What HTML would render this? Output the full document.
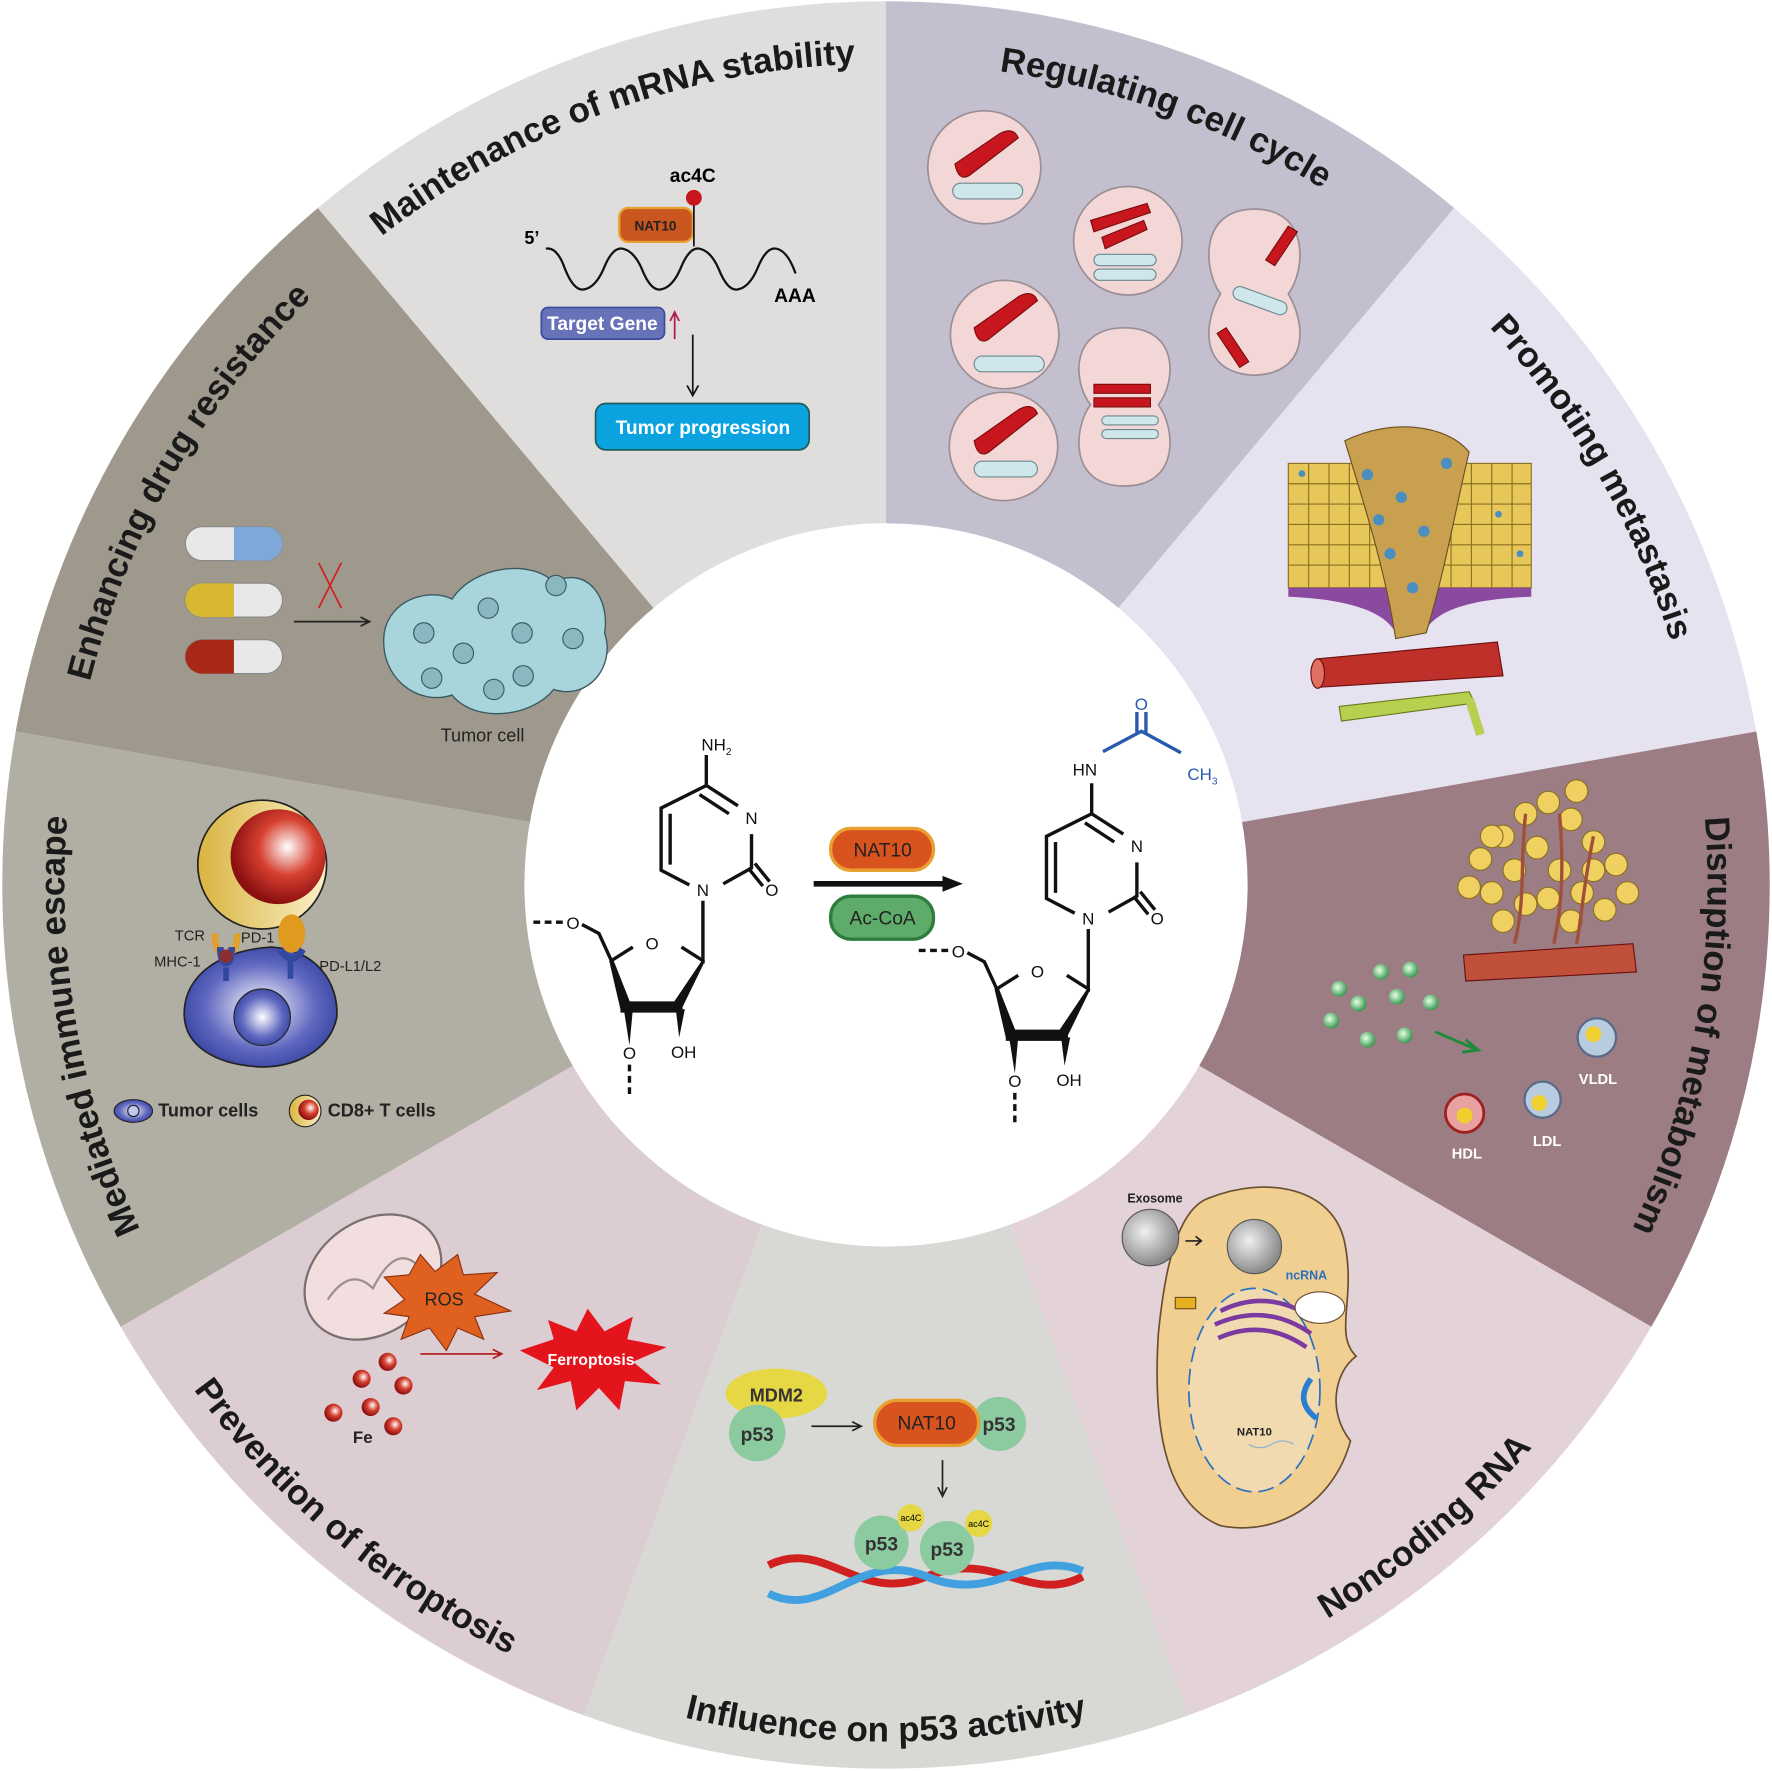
<!DOCTYPE html>
<html><head><meta charset="utf-8"><style>
html,body{margin:0;padding:0;background:#fff}
svg{display:block}
text{font-family:"Liberation Sans",Arial,sans-serif}
</style></head><body>
<svg width="1772" height="1771" viewBox="0 0 1568 1567" xmlns="http://www.w3.org/2000/svg">
<defs>
<radialGradient id="rs" cx="0.6" cy="0.4" r="0.6"><stop offset="0" stop-color="#fff"/><stop offset="0.5" stop-color="#d64030"/><stop offset="1" stop-color="#8a0f0f"/></radialGradient>
<radialGradient id="bs" cx="0.5" cy="0.5" r="0.6"><stop offset="0" stop-color="#fff"/><stop offset="0.6" stop-color="#6068c0"/><stop offset="1" stop-color="#2c3a98"/></radialGradient>
<radialGradient id="gs" cx="0.4" cy="0.4" r="0.6"><stop offset="0" stop-color="#e6ffe6"/><stop offset="1" stop-color="#3b9a52"/></radialGradient>
<radialGradient id="grs" cx="0.4" cy="0.4" r="0.6"><stop offset="0" stop-color="#f0f0f0"/><stop offset="1" stop-color="#8a8a8a"/></radialGradient>
<linearGradient id="yl" x1="0" x2="1"><stop offset="0" stop-color="#d9b440"/><stop offset="1" stop-color="#fbf0c8"/></linearGradient>
<path id="cw" d="M784,1510 A727,727 0 1 1 784,56 A727,727 0 1 1 784,1510"/>
<path id="ccw" d="M784,25 A758,758 0 1 0 784,1541 A758,758 0 1 0 784,25"/>
</defs>
<rect width="1568" height="1567" fill="#fff"/>
<!-- sectors -->
<path d="M784,783 L784,1 A782,782 0 0 1 1286.7,184 Z" fill="#c4bfcf"/>
<path d="M784,783 L1286.7,184 A782,782 0 0 1 1554.1,647.2 Z" fill="#e6e2f0"/>
<path d="M784,783 L1554.1,647.2 A782,782 0 0 1 1461.2,1174 Z" fill="#9c7d84"/>
<path d="M784,783 L1461.2,1174 A782,782 0 0 1 1051.4,1517.8 Z" fill="#e3d3d9"/>
<path d="M784,783 L1051.4,1517.8 A782,782 0 0 1 516.6,1517.8 Z" fill="#d8d9d4"/>
<path d="M784,783 L516.6,1517.8 A782,782 0 0 1 106.8,1174 Z" fill="#dccdd3"/>
<path d="M784,783 L106.8,1174 A782,782 0 0 1 13.9,647.2 Z" fill="#b1afa3"/>
<path d="M784,783 L13.9,647.2 A782,782 0 0 1 281.3,184 Z" fill="#9f998d"/>
<path d="M784,783 L281.3,184 A782,782 0 0 1 784,1 Z" fill="#dfdedc"/>
<circle cx="784" cy="783" r="320" fill="#fff"/>

<!-- titles -->
<g font-size="31" font-weight="bold" fill="#1a1a1a">
<text><textPath href="#cw" startOffset="22.22%" text-anchor="middle">Mediated immune escape</textPath></text>
<text><textPath href="#cw" startOffset="33.33%" text-anchor="middle">Enhancing drug  resistance</textPath></text>
<text><textPath href="#cw" startOffset="44.44%" text-anchor="middle">Maintenance of  mRNA stability</textPath></text>
<text><textPath href="#cw" startOffset="55.56%" text-anchor="middle">Regulating cell cycle</textPath></text>
<text><textPath href="#cw" startOffset="66.67%" text-anchor="middle">Promoting metastasis</textPath></text>
<text><textPath href="#cw" startOffset="77.78%" text-anchor="middle">Disruption of metabolism</textPath></text>
<text><textPath href="#ccw" startOffset="38.89%" text-anchor="middle">Prevention of ferroptosis</textPath></text>
<text><textPath href="#ccw" startOffset="50%" text-anchor="middle">Influence on p53 activity</textPath></text>
<text><textPath href="#ccw" startOffset="61.11%" text-anchor="middle">Noncoding RNA</textPath></text>
</g>

<!-- mRNA sector -->
<g>
<text x="464" y="216" font-size="16" font-weight="bold">5’</text>
<path d="M483,220 q10,-2 17,18 q8,20 17,18 q10,-2 17,-18 q8,-20 17,-18 q10,2 17,18 q8,20 17,18 q10,-2 17,-18 q8,-20 17,-18 q10,2 17,18 q8,20 17,18 q10,-2 17,-18 q8,-20 17,-18 q10,2 17,22" fill="none" stroke="#111" stroke-width="2"/>
<text x="685" y="267" font-size="17" font-weight="bold">AAA</text>
<rect x="548" y="184" width="65" height="30" rx="8" fill="#c9561f" stroke="#e8a030" stroke-width="2"/>
<text x="580" y="204" font-size="12" font-weight="bold" text-anchor="middle" fill="#222">NAT10</text>
<line x1="614" y1="176" x2="614" y2="218" stroke="#111" stroke-width="1.5"/>
<circle cx="614" cy="175" r="7" fill="#c8161e"/>
<text x="613" y="161" font-size="17" font-weight="bold" text-anchor="middle">ac4C</text>
<rect x="479" y="272" width="109" height="28" rx="6" fill="#6872b8" stroke="#3b4aa0" stroke-width="1.5"/>
<text x="533" y="292" font-size="17" font-weight="bold" text-anchor="middle" fill="#fff">Target Gene</text>
<path d="M597,300 V278 M593,284 L597,276 L601,284" fill="none" stroke="#b0184a" stroke-width="1.5"/>
<path d="M613,296 V348 M608,341 L613,350 L618,341" fill="none" stroke="#111" stroke-width="1.5"/>
<rect x="527" y="357" width="189" height="41" rx="9" fill="#0aa3e0" stroke="#1d5e58" stroke-width="1.5"/>
<text x="622" y="384" font-size="17" font-weight="bold" text-anchor="middle" fill="#fff">Tumor progression</text>
</g>

<!-- cell cycle -->
<g stroke="#9a8f95" stroke-width="1.5" fill="#f3d6d6">
<circle cx="871" cy="148" r="50"/><circle cx="998" cy="213" r="48"/><circle cx="889" cy="296" r="48"/><circle cx="888" cy="395" r="48"/>
<path d="M1110,185 C1160,185 1155,240 1140,260 C1155,285 1160,330 1110,332 C1060,330 1065,285 1080,260 C1065,240 1060,185 1110,185Z"/>
<path d="M995,290 C1045,290 1040,340 1025,358 C1040,378 1045,430 995,430 C945,430 950,378 965,358 C950,340 945,290 995,290Z"/>
</g>
<g fill="#c8161e" stroke="#7a0d0d" stroke-width="1">
<path d="M845,145 L885,118 q12,-6 16,4 L858,155 q-10,6 -13,-10Z"/>
<path d="M862,290 L902,262 q12,-6 16,4 L875,300 q-10,6 -13,-10Z"/>
<path d="M862,390 L902,362 q12,-6 16,4 L875,400 q-10,6 -13,-10Z"/>
<path d="M965,195 L1015,180 l3,8 L968,205Z M975,210 L1012,195 l3,8 L978,220Z"/>
<path d="M1120,230 l20,-30 l8,5 l-20,30Z M1085,290 l20,30 l-8,5 l-20,-30Z"/>
<path d="M968,340 h50 v8 h-50Z M968,352 h50 v8 h-50Z"/>
</g>
<g fill="#cfe6ea" stroke="#6a8a90" stroke-width="1">
<rect x="843" y="162" width="62" height="14" rx="7"/><rect x="862" y="315" width="62" height="14" rx="7"/><rect x="862" y="408" width="56" height="14" rx="7"/>
<rect x="968" y="225" width="55" height="10" rx="5"/><rect x="968" y="238" width="55" height="10" rx="5"/>
<rect x="1090" y="260" width="50" height="12" rx="6" transform="rotate(20 1115 266)"/>
<rect x="975" y="368" width="50" height="8" rx="4"/><rect x="975" y="380" width="50" height="8" rx="4"/>
</g>

<!-- metastasis -->
<g>
<rect x="1140" y="410" width="215" height="110" fill="#e8c75a" stroke="#8a7020"/>
<g stroke="#8a7020" stroke-width="1">
<path d="M1140,428 H1355 M1140,446 H1355 M1140,464 H1355 M1140,482 H1355 M1140,500 H1355 M1158,410 V520 M1176,410 V520 M1194,410 V520 M1212,410 V520 M1230,410 V520 M1248,410 V520 M1266,410 V520 M1284,410 V520 M1302,410 V520 M1320,410 V520 M1338,410 V520"/>
</g>
<path d="M1140,520 H1355 V528 C1300,530 1270,540 1260,560 L1235,560 C1225,540 1190,530 1140,528Z" fill="#8a4aa0"/>
<path d="M1190,390 C1230,370 1280,375 1300,400 C1290,440 1280,500 1262,560 L1235,565 C1225,500 1205,440 1190,390Z" fill="#c8a050" stroke="#6a5020"/>
<g fill="#4a8fc0"><circle cx="1210" cy="420" r="5"/><circle cx="1240" cy="440" r="5"/><circle cx="1260" cy="470" r="5"/><circle cx="1230" cy="490" r="5"/><circle cx="1250" cy="520" r="5"/><circle cx="1280" cy="410" r="5"/><circle cx="1220" cy="460" r="5"/><circle cx="1152" cy="419" r="3"/><circle cx="1326" cy="455" r="3"/><circle cx="1345" cy="490" r="3"/></g>
<path d="M1165,583 L1325,568 L1330,598 L1168,608Z" fill="#c0302a" stroke="#6a1010"/>
<ellipse cx="1166" cy="596" rx="6" ry="13" fill="#e07060" stroke="#6a1010"/>
<path d="M1185,625 L1300,612 L1305,622 L1187,638Z" fill="#b8d050" stroke="#6a7a20"/>
<path d="M1300,618 L1310,650" stroke="#b8d050" stroke-width="8"/>
</g>

<!-- metabolism -->
<g>
<g fill="#f0d060" stroke="#8a7020" stroke-width="1">
<circle cx="1310" cy="760" r="10"/><circle cx="1330" cy="740" r="10"/><circle cx="1350" cy="720" r="10"/><circle cx="1370" cy="710" r="10"/><circle cx="1390" cy="725" r="10"/><circle cx="1410" cy="745" r="10"/><circle cx="1430" cy="765" r="10"/><circle cx="1440" cy="790" r="10"/><circle cx="1420" cy="805" r="10"/><circle cx="1400" cy="790" r="10"/><circle cx="1380" cy="770" r="10"/><circle cx="1360" cy="750" r="10"/><circle cx="1340" cy="770" r="10"/><circle cx="1320" cy="790" r="10"/><circle cx="1300" cy="785" r="10"/><circle cx="1350" cy="800" r="10"/><circle cx="1370" cy="795" r="10"/><circle cx="1390" cy="815" r="10"/><circle cx="1330" cy="815" r="10"/><circle cx="1410" cy="770" r="10"/><circle cx="1320" cy="740" r="10"/><circle cx="1395" cy="700" r="10"/>
</g>
<path d="M1350,720 C1345,760 1350,800 1340,835 M1380,720 C1385,780 1380,810 1375,835 M1410,740 C1400,790 1400,810 1395,835" stroke="#a0503a" stroke-width="3" fill="none"/>
<path d="M1295,845 L1445,835 L1448,860 L1297,868Z" fill="#c0503a" stroke="#6a1010"/>
<g fill="url(#gs)"><circle cx="1222" cy="860" r="7"/><circle cx="1248" cy="858" r="7"/><circle cx="1185" cy="875" r="7"/><circle cx="1202" cy="888" r="7"/><circle cx="1236" cy="882" r="7"/><circle cx="1266" cy="887" r="7"/><circle cx="1178" cy="903" r="7"/><circle cx="1210" cy="920" r="7"/><circle cx="1243" cy="916" r="7"/></g>
<path d="M1270,913 L1305,928 M1297,920 L1308,929 L1294,931" stroke="#1f8a3a" stroke-width="2.5" fill="none"/>
<circle cx="1413" cy="918" r="17" fill="#b8cce0" stroke="#5a6a8a" stroke-width="2"/><circle cx="1410" cy="915" r="7" fill="#f0d030"/>
<circle cx="1365" cy="973" r="16" fill="#b8cce0" stroke="#5a6a8a" stroke-width="2"/><circle cx="1362" cy="976" r="7" fill="#f0d030"/>
<circle cx="1296" cy="985" r="17" fill="#e8a0a0" stroke="#a02020" stroke-width="2.5"/><circle cx="1296" cy="987" r="7" fill="#f0d030"/>
<g font-size="13" font-weight="bold" fill="#fff" text-anchor="middle"><text x="1414" y="959">VLDL</text><text x="1369" y="1014">LDL</text><text x="1298" y="1025">HDL</text></g>
</g>

<!-- noncoding -->
<g>
<path d="M1070,1060 C1120,1040 1180,1050 1190,1100 C1200,1150 1180,1180 1200,1200 C1180,1215 1175,1250 1195,1275 C1180,1330 1130,1360 1080,1350 C1030,1330 1020,1260 1025,1180 C1030,1130 1040,1070 1070,1060Z" fill="#f0cf90" stroke="#6a5030" stroke-width="1.5"/>
<circle cx="1110" cy="1103" r="24" fill="url(#grs)" stroke="#555"/>
<ellipse cx="1110" cy="1230" rx="58" ry="90" fill="#f2dab0" stroke="#2a70c0" stroke-width="1.5" stroke-dasharray="14 6"/>
<path d="M1080,1160 q40,-20 80,5 M1075,1172 q45,-20 85,8 M1078,1184 q40,-18 78,8" stroke="#7a3aa0" stroke-width="4" fill="none"/>
<ellipse cx="1168" cy="1157" rx="22" ry="14" fill="#fff" stroke="#6a5030"/>
<path d="M1160,1220 q-15,20 5,35" stroke="#2a80d0" stroke-width="5" fill="none"/>
<rect x="1040" y="1148" width="18" height="10" fill="#e8b020" stroke="#6a5020"/>
<circle cx="1018" cy="1095" r="25" fill="url(#grs)" stroke="#555"/>
<path d="M1049,1098 H1062 M1058,1094 L1063,1098 L1058,1102" stroke="#222" stroke-width="1.5" fill="none"/>
<text x="1022" y="1064" font-size="11" font-weight="bold" text-anchor="middle" fill="#222">Exosome</text>
<text x="1156" y="1132" font-size="11" font-weight="bold" text-anchor="middle" fill="#2a70c0">ncRNA</text>
<text x="1110" y="1270" font-size="10" font-weight="bold" text-anchor="middle" fill="#222">NAT10</text>
<path d="M1105,1278 q10,6 20,0 q10,-6 20,0" stroke="#8ab0d0" fill="none"/>
</g>

<!-- p53 -->
<g>
<ellipse cx="687" cy="1233" rx="45" ry="22" fill="#e5d844"/>
<text x="687" y="1240" font-size="16" font-weight="bold" text-anchor="middle" fill="#333">MDM2</text>
<circle cx="670" cy="1268" r="25" fill="#8ccaa0"/>
<text x="670" y="1275" font-size="17" font-weight="bold" text-anchor="middle" fill="#333">p53</text>
<path d="M718,1262 H760 M754,1258 L762,1262 L754,1266" stroke="#222" stroke-width="1.5" fill="none"/>
<circle cx="884" cy="1260" r="24" fill="#8ccaa0"/>
<text x="884" y="1266" font-size="17" font-weight="bold" text-anchor="middle" fill="#333">p53</text>
<rect x="774" y="1239" width="92" height="40" rx="20" fill="#d9531e" stroke="#e8a030" stroke-width="3"/>
<text x="820" y="1265" font-size="17" text-anchor="middle" fill="#222">NAT10</text>
<path d="M834,1292 V1322 M830,1316 L834,1324 L838,1316" stroke="#222" stroke-width="1.5" fill="none"/>
<path d="M680,1385 C730,1360 760,1420 820,1395 C880,1370 910,1420 958,1395" stroke="#d02020" stroke-width="7" fill="none"/>
<path d="M680,1410 C730,1435 760,1370 820,1395 C880,1420 910,1370 958,1390" stroke="#40a0e0" stroke-width="7" fill="none"/>
<circle cx="780" cy="1365" r="24" fill="#8ccaa0"/>
<circle cx="838" cy="1370" r="24" fill="#8ccaa0"/>
<text x="780" y="1372" font-size="17" font-weight="bold" text-anchor="middle" fill="#333">p53</text>
<text x="838" y="1377" font-size="17" font-weight="bold" text-anchor="middle" fill="#333">p53</text>
<circle cx="806" cy="1343" r="12" fill="#e5d844"/><circle cx="866" cy="1348" r="12" fill="#e5d844"/>
<text x="806" y="1346" font-size="8" text-anchor="middle">ac4C</text><text x="866" y="1351" font-size="8" text-anchor="middle">ac4C</text>
</g>

<!-- ferroptosis -->
<g>
<ellipse cx="330" cy="1130" rx="65" ry="50" transform="rotate(-35 330 1130)" fill="#f2dede" stroke="#7a7070" stroke-width="2"/>
<path d="M290,1150 q20,-30 40,-10 q20,-40 40,-20" stroke="#9a9090" fill="none" stroke-width="2"/>
<path d="M340,1130 L362,1128 L372,1110 L385,1125 L405,1110 L410,1128 L440,1126 L420,1145 L452,1160 L420,1165 L428,1185 L405,1175 L395,1195 L380,1175 L355,1185 L362,1165 L340,1162 L358,1150Z" fill="#e06020" stroke="#8a3010"/>
<text x="393" y="1155" font-size="16" text-anchor="middle" fill="#222">ROS</text>
<path d="M460,1195 L490,1185 L485,1168 L510,1178 L520,1158 L535,1178 L560,1165 L555,1185 L590,1192 L560,1205 L585,1225 L553,1222 L548,1248 L530,1228 L510,1248 L505,1222 L475,1230 L490,1210Z" fill="#e4141c"/>
<text x="523" y="1208" font-size="14" font-weight="bold" text-anchor="middle" fill="#fff">Ferroptosis</text>
<path d="M372,1198 H443 M436,1194 L444,1198 L436,1202" stroke="#b01818" stroke-width="1.5" fill="none"/>
<g fill="url(#rs)"><circle cx="343" cy="1205" r="8"/><circle cx="320" cy="1220" r="8"/><circle cx="357" cy="1226" r="8"/><circle cx="328" cy="1245" r="8"/><circle cx="295" cy="1250" r="8"/><circle cx="348" cy="1262" r="8"/></g>
<text x="321" y="1277" font-size="15" font-weight="bold" text-anchor="middle" fill="#222">Fe</text>
</g>

<!-- immune -->
<g>
<circle cx="232" cy="765" r="57" fill="url(#yl)" stroke="#222" stroke-width="1.5"/>
<circle cx="246" cy="758" r="42" fill="url(#rs)"/>
<path d="M163,897 C163,860 200,840 240,838 C280,840 300,870 298,900 C292,930 260,945 230,944 C190,942 163,925 163,897Z" fill="url(#bs)" stroke="#222" stroke-width="1.5"/>
<circle cx="232" cy="900" r="25" fill="url(#bs)" stroke="#222"/>
<path d="M190,826 q0,18 10,18 q10,0 10,-18" stroke="#e0a030" stroke-width="6" fill="none"/>
<path d="M195,838 q0,14 5,14 q5,0 5,-14" stroke="#3048a0" stroke-width="6" fill="none"/>
<circle cx="200" cy="846" r="6" fill="#8a3030"/>
<path d="M200,856 V868 M257,850 V866" stroke="#3048a0" stroke-width="5"/>
<ellipse cx="258" cy="826" rx="12" ry="17" fill="#e09a20"/>
<path d="M248,840 q10,16 20,0" stroke="#3048a0" stroke-width="6" fill="none"/>
<g font-size="13" fill="#222"><text x="168" y="832" text-anchor="middle">TCR</text><text x="228" y="834" text-anchor="middle">PD-1</text><text x="157" y="855" text-anchor="middle">MHC-1</text><text x="310" y="859" text-anchor="middle">PD-L1/L2</text></g>
<ellipse cx="118" cy="983" rx="17" ry="10" fill="url(#bs)" stroke="#222"/>
<circle cx="118" cy="983" r="5" fill="#c0c8f0" stroke="#222"/>
<text x="140" y="988" font-size="16" font-weight="bold" fill="#222">Tumor cells</text>
<circle cx="270" cy="983" r="14" fill="url(#yl)" stroke="#222"/><circle cx="273" cy="982" r="9" fill="url(#rs)"/>
<text x="290" y="988" font-size="16" font-weight="bold" fill="#222">CD8+ T cells</text>
</g>

<!-- drug -->
<g>
<rect x="164" y="466" width="86" height="30" rx="15" fill="#e8e8e8" stroke="#888"/><path d="M207,466 h28 a15,15 0 0 1 0,30 h-28Z" fill="#7ea8d8"/>
<rect x="164" y="516" width="86" height="30" rx="15" fill="#e8e8e8" stroke="#888"/><path d="M207,516 h-28 a15,15 0 0 0 0,30 h28Z" fill="#d8b830"/>
<rect x="164" y="566" width="86" height="30" rx="15" fill="#e8e8e8" stroke="#888"/><path d="M207,566 h-28 a15,15 0 0 0 0,30 h28Z" fill="#a82818"/>
<path d="M282,498 L302,538 M302,498 L282,538" stroke="#d02020" stroke-width="1.5"/>
<path d="M260,550 H326 M319,546 L327,550 L319,554" stroke="#222" stroke-width="1.5" fill="none"/>
<g fill="#a8d4dc" stroke="#3a5a60" stroke-width="1.2">
<path d="M340,560 C345,530 380,520 400,530 C420,500 470,495 490,515 C520,500 540,530 535,560 C545,590 520,620 490,610 C470,635 420,640 400,615 C370,625 335,600 340,560Z"/>
</g>
<g fill="#8ab8c0" stroke="#3a5a60"><circle cx="382" cy="600" r="9"/><circle cx="410" cy="578" r="9"/><circle cx="432" cy="538" r="9"/><circle cx="462" cy="560" r="9"/><circle cx="492" cy="518" r="9"/><circle cx="507" cy="565" r="9"/><circle cx="463" cy="598" r="9"/><circle cx="437" cy="610" r="9"/><circle cx="375" cy="560" r="9"/></g>
<text x="427" y="656" font-size="16" text-anchor="middle" fill="#222">Tumor cell</text>
</g>

<!-- center chemistry -->
<g id="mol" stroke="#111" stroke-width="3" fill="none" stroke-linecap="butt">
<path d="M625,668 V695 L653,713 M619,703 L645,720 M665,738 V768 L640,782 M662,768 L675,784 M668,764 L681,780 M610,783 L585,770 V715 L625,695 M593,765 V720 M622,797 V850 L603,838 M560,838 L541,850 L530,826 L515,818"/>
<path d="M472,816 H500" stroke-dasharray="6 4"/>
<path d="M557,942 V968" stroke-dasharray="6 4"/>
</g>
<g fill="#111">
<path d="M539,850 L543,850 L560,893 L549,893Z"/><path d="M549,886 H604 V896 H549Z"/><path d="M603,893 L592,893 L621,850 L624,850Z"/>
<path d="M552,893 L560,893 L557,925 Z"/><path d="M598,893 L606,893 L601,918 Z"/>
</g>
<g font-size="15" fill="#111" text-anchor="middle">
<text x="634" y="664">NH<tspan font-size="9" dy="4">2</tspan></text>
<text x="665" y="729">N</text><text x="622" y="793">N</text><text x="683" y="793">O</text>
<text x="577" y="840">O</text><text x="507" y="822">O</text><text x="557" y="937">O</text><text x="605" y="936">OH</text>
</g>
<g transform="translate(341,25)">
<g stroke="#111" stroke-width="3" fill="none">
<path d="M625,668 V695 L653,713 M619,703 L645,720 M665,738 V768 L640,782 M662,768 L675,784 M668,764 L681,780 M610,783 L585,770 V715 L625,695 M593,765 V720 M622,797 V850 L603,838 M560,838 L541,850 L530,826 L515,818"/>
<path d="M472,816 H500" stroke-dasharray="6 4"/>
<path d="M557,942 V968" stroke-dasharray="6 4"/>
</g>
<g fill="#111">
<path d="M539,850 L543,850 L560,893 L549,893Z"/><path d="M549,886 H604 V896 H549Z"/><path d="M603,893 L592,893 L621,850 L624,850Z"/>
<path d="M552,893 L560,893 L557,925 Z"/><path d="M598,893 L606,893 L601,918 Z"/>
</g>
<g font-size="15" fill="#111" text-anchor="middle">
<text x="665" y="729">N</text><text x="622" y="793">N</text><text x="683" y="793">O</text>
<text x="577" y="840">O</text><text x="507" y="822">O</text><text x="557" y="937">O</text><text x="605" y="936">OH</text>
</g>
</g>
<text x="960" y="686" font-size="15" fill="#111" text-anchor="middle">HN</text>
<path d="M976,665 L1010,647 L1045,666 M1006,648 V630 M1014,648 V630" stroke="#2a5ab0" stroke-width="3" fill="none"/>
<text x="1010" y="628" font-size="15" fill="#2a5ab0" text-anchor="middle">O</text>
<text x="1064" y="690" font-size="15" fill="#2a5ab0" text-anchor="middle">CH<tspan font-size="9" dy="4">3</tspan></text>
<rect x="735" y="733" width="91" height="37" rx="18" fill="#d9531e" stroke="#e8a030" stroke-width="3"/>
<text x="781" y="758" font-size="17" text-anchor="middle" fill="#222">NAT10</text>
<rect x="735" y="793" width="91" height="38" rx="18" fill="#5fac6a" stroke="#2e7d3e" stroke-width="3"/>
<text x="781" y="818" font-size="17" text-anchor="middle" fill="#222">Ac-CoA</text>
<path d="M720,782 H838" stroke="#111" stroke-width="5"/>
<path d="M834,775 L852,782 L834,789Z" fill="#111"/>
</svg>
</body></html>
